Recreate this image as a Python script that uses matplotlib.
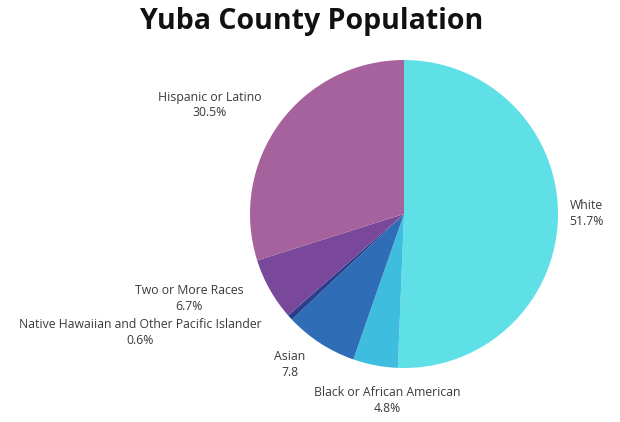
import matplotlib.pyplot as plt

# Yuba County population by race / ethnicity (percent)
groups = ['White', 'Black or African American', 'Asian',
          'Native Hawaiian and Other Pacific Islander', 'Two or More Races',
          'Hispanic or Latino']
shares = [51.7, 4.8, 7.8, 0.6, 6.7, 30.5]
share_labels = ['51.7%', '4.8%', '7.8', '0.6%', '6.7%', '30.5%']
colors = ['#5fdfe6', '#3fbddf', '#2f6db6', '#2a3f8c', '#7a489b', '#a6629c']

# where each label sits, in pixels from the top-left corner
label_pos = {
    'White': (586, 213),
    'Black or African American': (387, 401),
    'Asian': (290, 365),
    'Native Hawaiian and Other Pacific Islander': (140, 332),
    'Two or More Races': (189, 298),
    'Hispanic or Latino': (210, 105),
}

W, H = 620, 422
fig = plt.figure(figsize=(W / 100, H / 100), dpi=100)
plt.rcParams['font.family'] = ['Open Sans', 'DejaVu Sans']

cx, cy, r = 404, 214, 154
ax = fig.add_axes([(cx - r) / W, (H - cy - r) / H, 2 * r / W, 2 * r / H])
ax.pie(shares, colors=colors, startangle=90, counterclock=False, radius=1,
       wedgeprops=dict(linewidth=0))
ax.set_xlim(-1, 1)
ax.set_ylim(-1, 1)
ax.set_aspect('equal')
ax.axis('off')

for name, lab in zip(groups, share_labels):
    x, y = label_pos[name]
    fig.text(x / W, 1 - y / H, f'{name}\n{lab}', ha='center', va='center',
             fontsize=8.8, color='#3a3a3a', linespacing=1.3)

fig.text(0.502, 1 - 22 / H, 'Yuba County Population', ha='center', va='center',
         fontsize=20.5, fontweight='bold', color='#111111')

fig.savefig('out.png', dpi=100)
